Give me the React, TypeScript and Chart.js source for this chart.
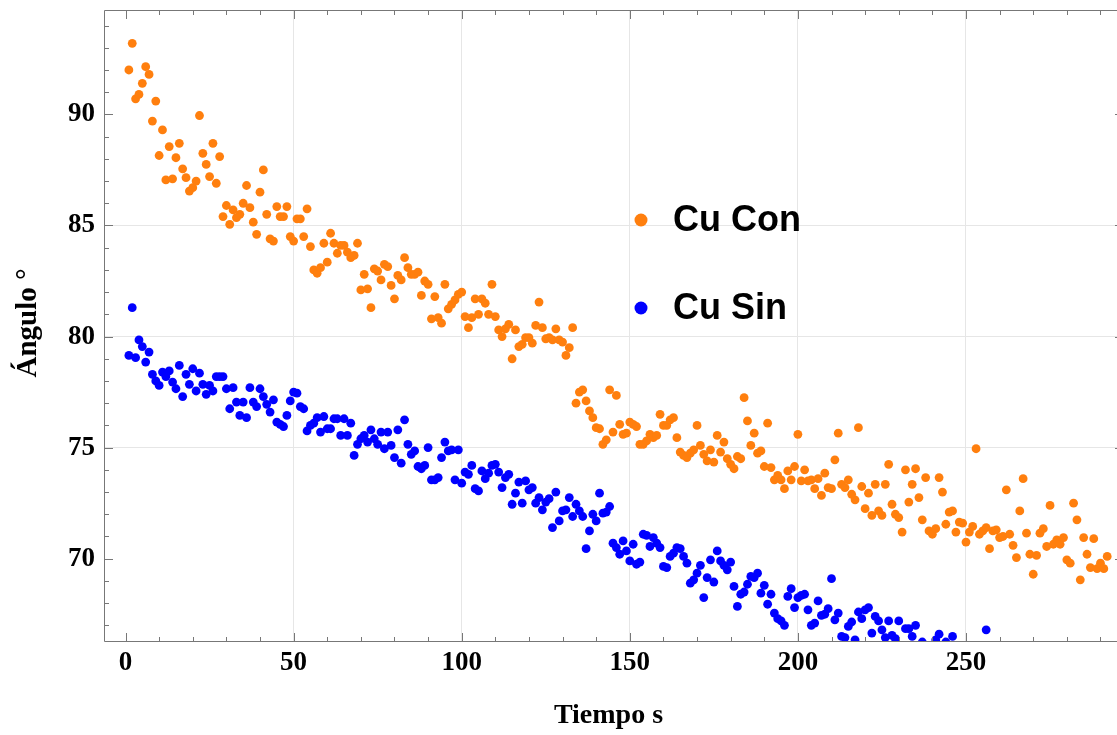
import React, { useEffect, useRef } from 'react';
import { Chart, registerables } from 'chart.js';

Chart.register(...registerables);

// Time in seconds (one sample per second)
const cuConValues: number[] = [
  92.0, 93.2, 90.7, 90.9, 91.4, 92.15, 91.8, 89.7, 90.6, 88.15,
  89.3, 87.05, 88.55, 87.1, 88.05, 88.7, 87.55, 87.15, 86.55, 86.7,
  87.0, 89.95, 88.25, 87.75, 87.2, 88.7, 86.9, 88.1, 85.4, 85.9,
  85.05, 85.7, 85.35, 85.5, 86.0, 86.8, 85.8, 85.15, 84.6, 86.5,
  87.5, 85.5, 84.4, 84.3, 85.85, 85.4, 85.4, 85.85, 84.5, 84.3,
  85.3, 85.3, 84.5, 85.75, 84.05, 83.0, 82.85, 83.1, 84.2, 83.35,
  84.65, 84.2, 83.75, 84.1, 84.1, 83.8, 83.55, 83.65, 84.2, 82.1,
  82.8, 82.15, 81.3, 83.05, 82.95, 82.55, 83.25, 83.15, 82.3, 81.7,
  82.75, 82.55, 83.55, 83.1, 82.8, 82.8, 82.9, 81.85, 82.5, 82.35,
  80.8, 81.8, 80.85, 80.6, 82.35, 81.25, 81.45, 81.65, 81.9, 82.0,
  80.9, 80.4, 80.85, 81.7, 81.0, 81.7, 81.5, 81.0, 82.35, 80.9,
  80.3, 80.0, 80.35, 80.55, 79.0, 80.3, 79.55, 79.65, 79.95, 79.95,
  79.7, 80.5, 81.55, 80.4, 79.9, 79.95, 79.85, 80.35, 79.85, 79.75,
  79.15, 79.5, 80.4, 77.0, 77.5, 77.6, 77.1, 76.65, 76.35, 75.9,
  75.85, 75.15, 75.35, 77.6, 75.7, 77.35, 76.05, 75.6, 75.65, 76.15,
  76.05, 75.95, 75.15, 75.15, 75.3, 75.6, 75.45, 75.55, 76.5, 76.0,
  76.0, 76.25, 76.35, 75.45, 74.8, 74.65, 74.55, 74.75, 74.9, 76.0,
  75.1, 74.7, 74.4, 74.9, 74.35, 75.55, 74.8, 75.25, 74.5, 74.25,
  74.05, 74.6, 74.5, 77.25, 76.2, 75.1, 75.65, 74.75, 74.85, 74.15,
  76.1, 74.1, 73.55, 73.75, 73.55, 73.15, 73.95, 73.55, 74.15, 75.6,
  73.5, 74.0, 73.5, 73.55, 73.15, 73.6, 72.85, 73.85, 73.2, 73.15,
  74.45, 75.65, 73.35, 73.2, 73.55, 72.9, 72.65, 75.9, 73.25, 72.25,
  72.95, 71.95, 73.35, 72.15, 71.95, 73.35, 74.25, 72.45, 72.0, 71.85,
  71.2, 74.0, 72.55, 73.35, 74.05, 72.75, 71.75, 73.65, 71.25, 71.1,
  71.35, 73.65, 73.0, 71.55, 72.1, 72.15, 71.2, 71.65, 71.6, 70.75,
  71.2, 71.45, 74.95, 71.1, 71.25, 71.4, 70.45, 71.25, 71.3, 70.95,
  71.0, 73.1, 71.1, 70.6, 70.05, 72.15, 73.6, 71.15, 70.2, 69.3,
  70.15, 71.15, 71.35, 70.55, 72.4, 70.65, 70.85, 70.65, 70.95, 69.95,
  69.8, 72.5, 71.75, 69.05, 70.95, 70.2, 69.6, 70.9, 69.55, 69.8,
  69.55, 70.1,
];

const cuSinValues: (number | null)[] = [
  79.15, 81.3, 79.05, 79.85, 79.55, 78.85, 79.3, 78.3, 78.0, 77.8,
  78.4, 78.2, 78.45, 77.95, 77.65, 78.7, 77.3, 78.3, 77.85, 78.55,
  77.55, 78.35, 77.85, 77.4, 77.8, 77.55, 78.2, 78.2, 78.2, 77.65,
  76.75, 77.7, 77.05, 76.45, 77.05, 76.35, 77.7, 77.05, 76.85, 77.65,
  77.3, 76.95, 76.6, 77.15, 76.15, 76.05, 75.95, 76.45, 77.1, 77.5,
  77.45, 76.85, 76.75, 75.75, 76.0, 76.1, 76.35, 75.7, 76.4, 75.85,
  75.85, 76.3, 76.3, 75.55, 76.3, 75.55, 76.1, 74.65, 75.15, 75.4,
  75.55, 75.25, 75.8, 75.4, 75.15, 75.7, 74.95, 75.7, 75.1, 74.55,
  75.8, 74.3, 76.25, 75.15, 74.7, 74.85, 74.15, 74.05, 74.2, 75.0,
  73.55, 73.55, 73.65, 74.55, 75.25, 74.85, 74.9, 73.55, 74.9, 73.4,
  73.9, 73.8, 74.2, 73.15, 73.05, 73.95, 73.6, 73.85, 74.2, 74.25,
  73.9, 73.2, 73.65, 73.8, 72.45, 72.95, 73.45, 72.5, 73.5, 73.1,
  73.2, 72.5, 72.75, 72.2, 72.55, 72.7, 71.4, 73.0, 71.7, 72.15,
  72.2, 72.75, 71.9, 72.45, 72.15, 71.9, 70.45, 71.25, 72.0, 71.7,
  72.95, 72.05, 72.1, 72.35, 70.7, 70.5, 70.2, 70.8, 70.35, 69.9,
  70.65, 69.75, 69.85, 71.1, 71.05, 70.55, 70.95, 70.7, 70.5, 69.65,
  69.6, 70.1, 70.25, 70.5, 70.45, 70.1, 69.8, 68.9, 69.05, 69.35,
  69.7, 68.25, 69.15, 69.95, 68.95, 70.35, 69.9, 69.7, 69.5, 69.85,
  68.75, 67.85, 68.4, 68.5, 68.85, 69.2, 69.15, 69.35, 68.45, 68.8,
  67.95, 68.4, 67.55, 67.3, 67.2, 67.0, 68.3, 68.65, 67.8, 68.25,
  68.35, 68.4, 67.7, 67.0, 67.1, 68.1, 67.45, 67.5, 67.75, 69.1,
  67.25, 67.55, 66.5, 66.45, 66.95, 67.15, 66.35, 67.6, 67.3, 67.7,
  67.8, 66.65, 67.4, 67.2, 66.8, 66.45, 67.2, 66.55, 66.4, 67.2,
  null, 66.85, 66.85, 66.5, 67.0, null, 66.25, null, null, null,
  66.35, 66.6, null, 66.25, null, 66.5, null, null, null, null,
  null, null, null, null, null, 66.8,
];

const tiempoCon = cuConValues.map((_, i) => i + 1);
const tiempoSin = cuSinValues.map((_, i) => i + 1);

const xMajorTicks = [0, 50, 100, 150, 200, 250];
const xMinorTicks = [10, 20, 30, 40, 60, 70, 80, 90, 110, 120, 130, 140, 160, 170, 180, 190, 210, 220, 230, 240, 260, 270, 280, 290];
const yMajorTicks = [70, 75, 80, 85, 90];
const yMinorTicks = [67, 68, 69, 71, 72, 73, 74, 76, 77, 78, 79, 81, 82, 83, 84, 86, 87, 88, 89, 91, 92, 93, 94];
const xGridLines = [50, 100, 150, 200, 250];
const yGridLines = [75, 80, 85];

const seriesNames = ['Cu Con', 'Cu Sin'];
const seriesColors = ['#FF7F0E', '#0000FF'];
const xTitle = 'Tiempo s';
const yTitle = 'Ángulo °';

const X_MIN = -6.4;
const X_MAX = 297;
const Y_MIN = 66.25;
const Y_MAX = 94.7;

const FRAME_COLOR = '#777777';
const GRID_COLOR = '#e6e6e6';
const SERIF = "'Liberation Serif', 'DejaVu Serif', serif";
const SANS = "'Liberation Sans', Arial, sans-serif";

const frameTicksPlugin = {
  id: 'frameTicks',
  afterDatasetsDraw(chart: any) {
    const { ctx, chartArea } = chart;
    const xs = chart.scales.x;
    const ys = chart.scales.y;
    const { left, right, top, bottom } = chartArea;
    ctx.save();
    ctx.strokeStyle = FRAME_COLOR;
    ctx.lineWidth = 1;
    ctx.beginPath();
    ctx.rect(left + 0.5, top + 0.5, right - left - 1, bottom - top - 1);
    ctx.stroke();
    const major = 9;
    const minor = 5;
    ctx.beginPath();
    const drawX = (v: number, len: number) => {
      const p = Math.round(xs.getPixelForValue(v)) + 0.5;
      ctx.moveTo(p, bottom);
      ctx.lineTo(p, bottom - len);
      ctx.moveTo(p, top);
      ctx.lineTo(p, top + len);
    };
    const drawY = (v: number, len: number) => {
      const p = Math.round(ys.getPixelForValue(v)) + 0.5;
      ctx.moveTo(left, p);
      ctx.lineTo(left + len, p);
      ctx.moveTo(right, p);
      ctx.lineTo(right - len, p);
    };
    xMajorTicks.forEach((v) => drawX(v, major));
    xMinorTicks.forEach((v) => drawX(v, minor));
    yMajorTicks.forEach((v) => drawY(v, major));
    yMinorTicks.forEach((v) => drawY(v, minor));
    ctx.stroke();
    ctx.restore();
  },
  afterDraw(chart: any) {
    const { ctx } = chart;
    ctx.save();
    // legend inside the plot
    const rows = [
      { cx: 641, cy: 220 },
      { cx: 641, cy: 308 },
    ];
    rows.forEach((r, i) => {
      ctx.fillStyle = seriesColors[i];
      ctx.beginPath();
      ctx.arc(r.cx, r.cy, 6.5, 0, Math.PI * 2);
      ctx.fill();
      ctx.fillStyle = '#000';
      ctx.font = `bold 36px ${SANS}`;
      ctx.textBaseline = 'middle';
      ctx.textAlign = 'left';
      ctx.fillText(seriesNames[i], r.cx + 32, r.cy + 1);
    });
    // axis titles
    ctx.fillStyle = '#000';
    ctx.font = `bold 28px ${SERIF}`;
    ctx.textAlign = 'center';
    ctx.textBaseline = 'middle';
    ctx.fillText(xTitle, 608.5, 716);
    ctx.translate(29, 323);
    ctx.rotate(-Math.PI / 2);
    ctx.font = `bold 29px ${SERIF}`;
    ctx.fillText(yTitle, 0, 0);
    ctx.restore();
  },
};

export default function App() {
  const canvasRef = useRef<HTMLCanvasElement | null>(null);

  useEffect(() => {
    document.body.style.margin = '0';
    const canvas = canvasRef.current;
    if (!canvas) return;
    const chart = new Chart(canvas, {
      type: 'scatter',
      data: {
        datasets: [
          {
            label: seriesNames[0],
            data: tiempoCon.map((t, i) => ({ x: t, y: cuConValues[i] })),
            backgroundColor: seriesColors[0],
            borderWidth: 0,
            pointRadius: 4.4,
            clip: 0,
          },
          {
            label: seriesNames[1],
            data: tiempoSin
              .map((t, i) => ({ x: t, y: cuSinValues[i] }))
              .filter((p) => p.y !== null),
            backgroundColor: seriesColors[1],
            borderWidth: 0,
            pointRadius: 4.4,
            clip: 0,
          },
        ],
      },
      options: {
        animation: false,
        responsive: false,
        devicePixelRatio: 1,
        layout: { padding: { top: 10, right: 6, left: 0, bottom: 0 } },
        plugins: {
          legend: { display: false },
          tooltip: { enabled: false },
        },
        scales: {
          x: {
            type: 'linear',
            min: X_MIN,
            max: X_MAX,
            afterFit: (scale: any) => {
              scale.height = 93;
              scale.paddingLeft = 0;
              scale.paddingRight = 0;
            },
            afterBuildTicks: (scale: any) => {
              scale.ticks = xMajorTicks.map((v) => ({ value: v }));
            },
            ticks: {
              font: { family: SERIF, weight: 'bold', size: 27 },
              color: '#000',
              padding: 5,
              maxRotation: 0,
            },
            grid: {
              drawTicks: false,
              color: (c: any) => (xGridLines.includes(c.tick?.value) ? GRID_COLOR : 'rgba(0,0,0,0)'),
            },
            border: { display: false },
            title: { display: false },
          },
          y: {
            type: 'linear',
            min: Y_MIN,
            max: Y_MAX,
            afterFit: (scale: any) => {
              scale.width = 104;
              scale.paddingTop = 0;
              scale.paddingBottom = 0;
            },
            afterBuildTicks: (scale: any) => {
              scale.ticks = yMajorTicks.map((v) => ({ value: v }));
            },
            ticks: {
              font: { family: SERIF, weight: 'bold', size: 27 },
              color: '#000',
              padding: 9,
            },
            grid: {
              drawTicks: false,
              color: (c: any) => (yGridLines.includes(c.tick?.value) ? GRID_COLOR : 'rgba(0,0,0,0)'),
            },
            border: { display: false },
            title: { display: false },
          },
        },
      },
      plugins: [frameTicksPlugin],
    } as any);
    return () => chart.destroy();
  }, []);

  return (
    <div style={{ width: 1117, height: 735, overflow: 'hidden', position: 'relative' }}>
      <canvas ref={canvasRef} width={1130} height={735} style={{ display: 'block' }} />
    </div>
  );
}
